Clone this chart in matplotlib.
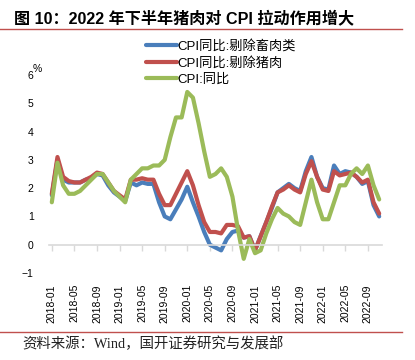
import numpy as np
import pandas as pd
import matplotlib
matplotlib.use('Agg')
import matplotlib.pyplot as plt
from matplotlib.lines import Line2D

# monthly data, 2018-01 .. 2022-11
months = pd.period_range('2018-01', '2022-11', freq='M').strftime('%Y-%m').tolist()

cpi = [1.5, 2.9, 2.1, 1.8, 1.8, 1.9, 2.1, 2.3, 2.5, 2.5, 2.2, 1.9,
       1.7, 1.5, 2.3, 2.5, 2.7, 2.7, 2.8, 2.8, 3.0, 3.8, 4.5, 4.5,
       5.4, 5.2, 4.3, 3.3, 2.4, 2.5, 2.7, 2.4, 1.7, 0.5, -0.5, 0.2,
       -0.3, -0.2, 0.4, 0.9, 1.3, 1.1, 1.0, 0.8, 0.7, 1.5, 2.3, 1.5,
       0.9, 0.9, 1.5, 2.1, 2.1, 2.5, 2.7, 2.5, 2.8, 2.1, 1.6]

ex_pork = [1.8, 3.1, 2.4, 2.25, 2.2, 2.2, 2.3, 2.4, 2.55, 2.5, 2.2, 1.9,
           1.75, 1.6, 2.3, 2.3, 2.35, 2.3, 2.3, 1.8, 1.4, 1.4, 1.8, 2.2,
           2.6, 2.1, 1.4, 0.8, 0.45, 0.45, 0.4, 0.7, 0.7, 0.65, 0.25, 0.3,
           -0.2, 0.3, 0.8, 1.35, 1.85, 1.95, 2.1, 1.95, 1.85, 2.5, 2.95, 2.4,
           1.95, 1.9, 2.6, 2.45, 2.5, 2.55, 2.4, 2.2, 2.3, 1.5, 1.1]

ex_meat = [1.75, 3.0, 2.3, 2.2, 2.2, 2.2, 2.3, 2.35, 2.5, 2.45, 2.1, 1.85,
           1.7, 1.55, 2.2, 2.1, 2.2, 2.15, 2.15, 1.5, 1.0, 0.9, 1.25, 1.6,
           2.05, 1.5, 1.0, 0.45, 0.0, -0.1, -0.2, 0.2, 0.45, 0.5, 0.25, 0.3,
           -0.2, 0.3, 0.8, 1.3, 1.85, 2.0, 2.15, 2.0, 1.9, 2.6, 3.1, 2.4,
           2.0, 1.95, 2.8, 2.5, 2.6, 2.55, 2.4, 2.15, 2.25, 1.4, 1.0]

labels = ['CPI同比:剔除畜肉类', 'CPI同比:剔除猪肉', 'CPI:同比']
colors = ['#4A7EBB', '#C0504D', '#9BBB59']

plt.rcParams['font.family'] = ['Liberation Sans', 'Noto Sans CJK SC', 'DejaVu Sans']

fig = plt.figure(figsize=(4.15, 3.6), dpi=100)
ax = fig.add_axes([49 / 415, 87 / 360, 333 / 415, 198 / 360])

x = np.arange(len(months))
for ser, lab, col in zip([ex_meat, ex_pork, cpi], labels, colors):
    ax.plot(x, ser, color=col, lw=3, label=lab, solid_joinstyle='round', solid_capstyle='round')

ax.set_xlim(-0.5, len(months) - 0.5)
ax.set_ylim(-1, 6)
ax.set_yticks(range(-1, 7))
ax.tick_params(axis='y', length=0, pad=11, labelsize=7.5)

for s in ['left', 'right', 'top']:
    ax.spines[s].set_visible(False)
ax.spines['bottom'].set_position(('data', 0))
ax.spines['bottom'].set_color('#D9D9D9')
ax.spines['bottom'].set_linewidth(1.2)
tick_pos = x[::4]
ax.set_xticks(tick_pos)
ax.tick_params(axis='x', direction='out', length=4, color='#D9D9D9', width=1, labelbottom=False)

sec = ax.secondary_xaxis('bottom')
sec.set_xticks(tick_pos)
sec.set_xticklabels([months[i] for i in tick_pos], rotation=90, fontsize=7.5)
sec.tick_params(length=0, pad=8)
sec.spines['bottom'].set_visible(False)

ax.legend(loc='upper left', bbox_to_anchor=(0.276, 1.205), frameon=False, fontsize=9.5,
          handlelength=2.3, handletextpad=0.1, labelspacing=0.3, borderaxespad=0)

fig.text(37 / 415, 1 - 69 / 360, '%', fontsize=7.5, ha='center', va='center')

fig.text(14 / 415, 1 - 18 / 360, '图 10：2022 年下半年猪肉对 CPI 拉动作用增大',
         fontsize=11.6, fontweight='bold', ha='left', va='center')
fig.add_artist(Line2D([0, 402 / 415], [1 - 29 / 360] * 2, color='#C0504D', lw=1))
fig.add_artist(Line2D([0, 402 / 415], [1 - 332 / 360] * 2, color='#C0504D', lw=1))
fig.text(22 / 415, 1 - 344 / 360, '资料来源：Wind，国开证券研究与发展部',
         family=['Liberation Serif', 'Noto Sans CJK SC'], fontsize=10.4, ha='left', va='center',
         color='#222222')

fig.savefig('out.png', dpi=100)
